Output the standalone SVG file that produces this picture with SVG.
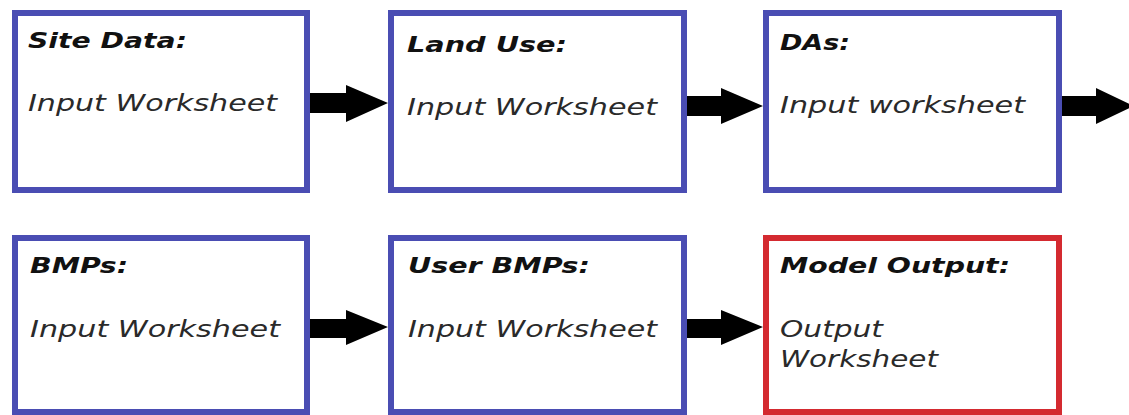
<svg xmlns="http://www.w3.org/2000/svg" width="1129" height="415" viewBox="0 0 1129 415">
<style>
.box{fill:#fff;stroke:#4a4db3;stroke-width:6}
.red{fill:#fff;stroke:#d42a30;stroke-width:6}
.t{font-family:"DejaVu Sans",Verdana,sans-serif;font-style:italic;font-weight:bold;font-size:22px;fill:#111}
.b{font-family:"DejaVu Sans",Verdana,sans-serif;font-style:italic;font-size:23px;fill:#2a2a2a}
.arr{fill:#000}
</style>
<rect width="1129" height="415" fill="#fff"/>
<g id="connectors">
<path class="arr" d="M310,93 H346 V85 L388,103 L346,122 V113 H310 Z"/>
<path class="arr" d="M687,96 H721 V88 L763,106 L721,124 V116 H687 Z"/>
<path class="arr" d="M1062,96 H1096 V88 L1134,106 L1096,124 V116 H1062 Z"/>
<path class="arr" d="M310,319 H346 V310 L388,327 L346,345 V338 H310 Z"/>
<path class="arr" d="M687,319 H721 V310 L763,327 L721,345 V338 H687 Z"/>
</g>
<g id="site-data">
<rect class="box" x="15" y="13" width="292" height="177"/>
<text class="t" x="28" y="48" textLength="159" lengthAdjust="spacingAndGlyphs">Site Data:</text>
<text class="b" x="28" y="111" textLength="249" lengthAdjust="spacingAndGlyphs">Input Worksheet</text>
</g>
<g id="land-use">
<rect class="box" x="391" y="13" width="293" height="177"/>
<text class="t" x="407" y="52" textLength="160" lengthAdjust="spacingAndGlyphs">Land Use:</text>
<text class="b" x="407" y="115" textLength="250" lengthAdjust="spacingAndGlyphs">Input Worksheet</text>
</g>
<g id="das">
<rect class="box" x="766" y="13" width="293" height="177"/>
<text class="t" x="780" y="50" textLength="70" lengthAdjust="spacingAndGlyphs">DAs:</text>
<text class="b" x="780" y="113" textLength="245" lengthAdjust="spacingAndGlyphs">Input worksheet</text>
</g>
<g id="bmps">
<rect class="box" x="15" y="238" width="292" height="174"/>
<text class="t" x="30" y="273" textLength="98" lengthAdjust="spacingAndGlyphs">BMPs:</text>
<text class="b" x="30" y="337" textLength="250" lengthAdjust="spacingAndGlyphs">Input Worksheet</text>
</g>
<g id="user-bmps">
<rect class="box" x="391" y="238" width="293" height="174"/>
<text class="t" x="408" y="273" textLength="182" lengthAdjust="spacingAndGlyphs">User BMPs:</text>
<text class="b" x="408" y="337" textLength="249" lengthAdjust="spacingAndGlyphs">Input Worksheet</text>
</g>
<g id="model-output">
<rect class="red" x="766" y="238" width="293" height="174"/>
<text class="t" x="780" y="273" textLength="230" lengthAdjust="spacingAndGlyphs">Model Output:</text>
<text class="b" x="780" y="337" textLength="103" lengthAdjust="spacingAndGlyphs">Output</text>
<text class="b" x="780" y="367" textLength="158" lengthAdjust="spacingAndGlyphs">Worksheet</text>
</g>
</svg>
